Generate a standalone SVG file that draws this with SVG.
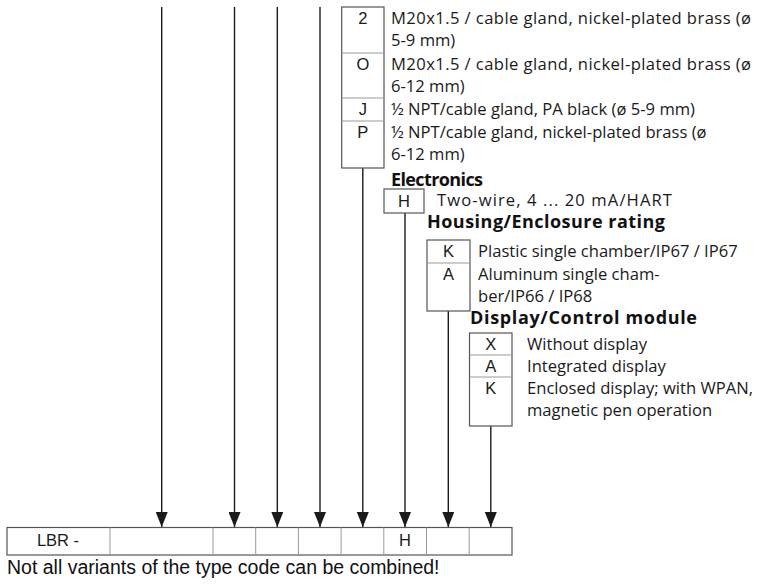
<svg xmlns="http://www.w3.org/2000/svg" width="757" height="584" viewBox="0 0 757 584">
<style>
.box{fill:#fff;stroke:#555;stroke-width:1.2}
.div{stroke:#999;stroke-width:1}
.code{font-family:"Liberation Sans",Arial,sans-serif;font-size:16.5px;fill:#1a1a1a;text-anchor:middle}
.desc{font-family:"Open Sans","Liberation Sans",sans-serif;font-size:16.6px;fill:#1a1a1a}
.head{font-family:"Open Sans","Liberation Sans",sans-serif;font-size:18px;font-weight:bold;fill:#111}
.conn{stroke:#1a1a1a;stroke-width:1.4;fill:none}
.foot{font-family:"Liberation Sans",Arial,sans-serif;font-size:19.5px;fill:#111}
</style>
<defs>
<marker id="ah" markerUnits="userSpaceOnUse" markerWidth="15" markerHeight="12" refX="15" refY="6" orient="auto">
<path d="M0,0 L15,6 L0,12 Z" fill="#1a1a1a"/>
</marker>
</defs>

<g id="connectors">
<line class="conn" x1="161.7" y1="7" x2="161.7" y2="527" marker-end="url(#ah)"/>
<line class="conn" x1="234.5" y1="7" x2="234.5" y2="527" marker-end="url(#ah)"/>
<line class="conn" x1="277.3" y1="7" x2="277.3" y2="527" marker-end="url(#ah)"/>
<line class="conn" x1="320" y1="7" x2="320" y2="527" marker-end="url(#ah)"/>
<line class="conn" x1="362.8" y1="168" x2="362.8" y2="527" marker-end="url(#ah)"/>
<line class="conn" x1="405" y1="213" x2="405" y2="527" marker-end="url(#ah)"/>
<line class="conn" x1="448.3" y1="311" x2="448.3" y2="527" marker-end="url(#ah)"/>
<line class="conn" x1="490.8" y1="426" x2="490.8" y2="527" marker-end="url(#ah)"/>
</g>

<g id="cable-entry">
<rect class="box" x="341.7" y="7" width="42.3" height="161"/>
<line class="div" x1="341.7" y1="53" x2="384" y2="53"/>
<line class="div" x1="341.7" y1="98" x2="384" y2="98"/>
<line class="div" x1="341.7" y1="121" x2="384" y2="121"/>
<text class="code" x="362.8" y="24">2</text>
<text class="desc" x="391" y="24" textLength="360">M20x1.5 / cable gland, nickel-plated brass (ø</text>
<text class="desc" x="391" y="46">5-9 mm)</text>
<text class="code" x="362.8" y="70">O</text>
<text class="desc" x="391" y="70" textLength="360">M20x1.5 / cable gland, nickel-plated brass (ø</text>
<text class="desc" x="391" y="92">6-12 mm)</text>
<text class="code" x="362.8" y="115">J</text>
<text class="desc" x="391" y="115">½ NPT/cable gland, PA black (ø 5-9 mm)</text>
<text class="code" x="362.8" y="138">P</text>
<text class="desc" x="391" y="138">½ NPT/cable gland, nickel-plated brass (ø</text>
<text class="desc" x="391" y="160">6-12 mm)</text>
</g>

<g id="electronics">
<text class="head" x="391" y="186" textLength="92">Electronics</text>
<rect class="box" x="384" y="189" width="40" height="24"/>
<text class="code" x="404" y="207">H</text>
<text class="desc" x="437" y="206" textLength="235">Two-wire, 4 ... 20 mA/HART</text>
</g>

<g id="housing">
<text class="head" x="427" y="228" textLength="238">Housing/Enclosure rating</text>
<rect class="box" x="427" y="240" width="43" height="71"/>
<line class="div" x1="427" y1="263" x2="470" y2="263"/>
<text class="code" x="448.5" y="257">K</text>
<text class="desc" x="478" y="257">Plastic single chamber/IP67 / IP67</text>
<text class="code" x="448.5" y="280">A</text>
<text class="desc" x="478" y="280">Aluminum single cham-</text>
<text class="desc" x="478" y="302">ber/IP66 / IP68</text>
</g>

<g id="display">
<text class="head" x="470" y="324" textLength="227">Display/Control module</text>
<rect class="box" x="469.5" y="333" width="42.5" height="93"/>
<line class="div" x1="469.5" y1="355" x2="512" y2="355"/>
<line class="div" x1="469.5" y1="377" x2="512" y2="377"/>
<text class="code" x="490.8" y="350">X</text>
<text class="desc" x="527" y="350">Without display</text>
<text class="code" x="490.8" y="372">A</text>
<text class="desc" x="527" y="372">Integrated display</text>
<text class="code" x="490.8" y="394">K</text>
<text class="desc" x="527" y="394">Enclosed display; with WPAN,</text>
<text class="desc" x="527" y="416">magnetic pen operation</text>
</g>

<g id="type-code">
<rect class="box" x="7" y="527.5" width="505" height="27.5"/>
<line class="div" x1="110" y1="527.5" x2="110" y2="555"/>
<line class="div" x1="213" y1="527.5" x2="213" y2="555"/>
<line class="div" x1="255.7" y1="527.5" x2="255.7" y2="555"/>
<line class="div" x1="298.4" y1="527.5" x2="298.4" y2="555"/>
<line class="div" x1="341.1" y1="527.5" x2="341.1" y2="555"/>
<line class="div" x1="383.8" y1="527.5" x2="383.8" y2="555"/>
<line class="div" x1="426.5" y1="527.5" x2="426.5" y2="555"/>
<line class="div" x1="469.2" y1="527.5" x2="469.2" y2="555"/>
<text class="code" x="58" y="546">LBR -</text>
<text class="code" x="405" y="546">H</text>
</g>

<text class="foot" x="7" y="574">Not all variants of the type code can be combined!</text>
</svg>
